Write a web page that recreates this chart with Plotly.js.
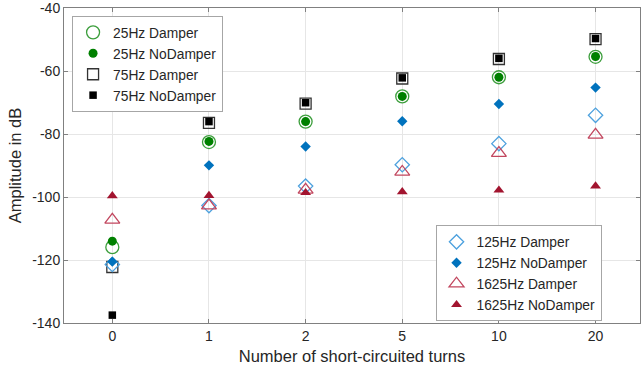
<!DOCTYPE html>
<html>
<head>
<meta charset="utf-8">
<script src="https://cdn.plot.ly/plotly-3.0.1.min.js"></script>
<style>html,body{margin:0;padding:0;background:#fff}#chart{width:641px;height:379px}</style>
</head>
<body>
<div id="chart"></div>
<script>
const xCats = ['0', '1', '2', '5', '10', '20'];
const amp25Damper     = [-115.9, -82.5, -76.0, -68.0, -61.9, -55.4];
const amp25NoDamper   = [-114.0, -82.3, -76.0, -68.0, -61.9, -55.3];
const amp75Damper     = [-122.2, -76.4, -70.3, -62.3, -56.1, -49.8];
const amp75NoDamper   = [-137.5, -76.0, -70.0, -62.1, -55.9, -49.6];
const amp125Damper    = [-121.4, -102.7, -96.5, -89.7, -83.0, -74.0];
const amp125NoDamper  = [-120.5, -89.9, -83.9, -75.9, -70.4, -65.2];
const amp1625Damper   = [-107.2, -102.7, -97.7, -92.0, -86.0, -80.2];
const amp1625NoDamper = [-99.6, -99.5, -98.6, -98.3, -97.8, -96.5];
const seriesNames = ['25Hz Damper', '25Hz NoDamper', '75Hz Damper', '75Hz NoDamper',
                     '125Hz Damper', '125Hz NoDamper', '1625Hz Damper', '1625Hz NoDamper'];
const yTickVals = [-140, -120, -100, -80, -60, -40];
const yTickText = ['-140', '-120', '-100', '-80', '-60', '-40'];

const FONT = 'Liberation Sans, Arial, sans-serif';
function tr(name, y, marker, legend) {
  return {type: 'scatter', mode: 'markers', x: xCats, y: y, name: name,
          marker: marker, legend: legend, cliponaxis: false};
}
const data = [
  tr(seriesNames[0], amp25Damper,   {symbol: 'circle-open', size: 13, color: '#3c9e3c', line: {width: 1.3, color: '#3c9e3c'}}, 'legend'),
  tr(seriesNames[1], amp25NoDamper, {symbol: 'circle', size: 9, color: '#008000'}, 'legend'),
  tr(seriesNames[2], amp75Damper,   {symbol: 'square-open', size: 11, color: '#333333', line: {width: 1.3, color: '#333333'}}, 'legend'),
  tr(seriesNames[3], amp75NoDamper, {symbol: 'square', size: 7.5, color: '#000000'}, 'legend'),
  tr(seriesNames[4], amp125Damper,  {symbol: 'diamond-open', size: 11, color: '#4da1de', line: {width: 1.3, color: '#4da1de'}}, 'legend2'),
  tr(seriesNames[5], amp125NoDamper,{symbol: 'diamond', size: 8, color: '#0072BD'}, 'legend2'),
  tr(seriesNames[6], amp1625Damper, {symbol: 'triangle-up-open', size: 13, color: '#c2475f', line: {width: 1.3, color: '#c2475f'}}, 'legend2'),
  tr(seriesNames[7], amp1625NoDamper,{symbol: 'triangle-up', size: 9.5, color: '#A2142F'}, 'legend2')
];

const legendCommon = {
  xanchor: 'left', yanchor: 'top', bgcolor: '#ffffff', bordercolor: '#a6a6a6', borderwidth: 1,
  font: {family: FONT, size: 13.8, color: '#262626'}, tracegroupgap: 0, itemsizing: 'trace'
};
const layout = {
  width: 641, height: 379,
  margin: {l: 64, r: 1, t: 8, b: 56, pad: 0},
  paper_bgcolor: '#ffffff', plot_bgcolor: '#ffffff',
  font: {family: FONT, color: '#262626'},
  showlegend: true,
  legend: Object.assign({x: 0.014, y: 0.975}, legendCommon),
  legend2: Object.assign({x: 0.645, y: 0.31}, legendCommon),
  xaxis: {
    type: 'category', range: [-0.5, 5.46],
    showgrid: true, gridcolor: '#e6e6e6', gridwidth: 1,
    showline: true, linecolor: '#808080', linewidth: 1, mirror: 'ticks',
    ticks: 'inside', ticklen: 4, tickcolor: '#808080',
    tickfont: {family: FONT, size: 14, color: '#262626'},
    title: {text: 'Number of short-circuited turns', font: {family: FONT, size: 16.5, color: '#262626'}, standoff: 7},
    zeroline: false
  },
  yaxis: {
    range: [-140, -39.9], tickvals: yTickVals, ticktext: yTickText,
    showgrid: true, gridcolor: '#e6e6e6', gridwidth: 1,
    showline: true, linecolor: '#808080', linewidth: 1, mirror: 'ticks',
    ticks: 'inside', ticklen: 4, tickcolor: '#808080',
    tickfont: {family: FONT, size: 14, color: '#262626'},
    title: {text: 'Amplitude in dB', font: {family: FONT, size: 16.5, color: '#262626'}, standoff: 6},
    zeroline: false
  }
};
Plotly.newPlot('chart', data, layout, {displayModeBar: false, staticPlot: true});
</script>
</body>
</html>
